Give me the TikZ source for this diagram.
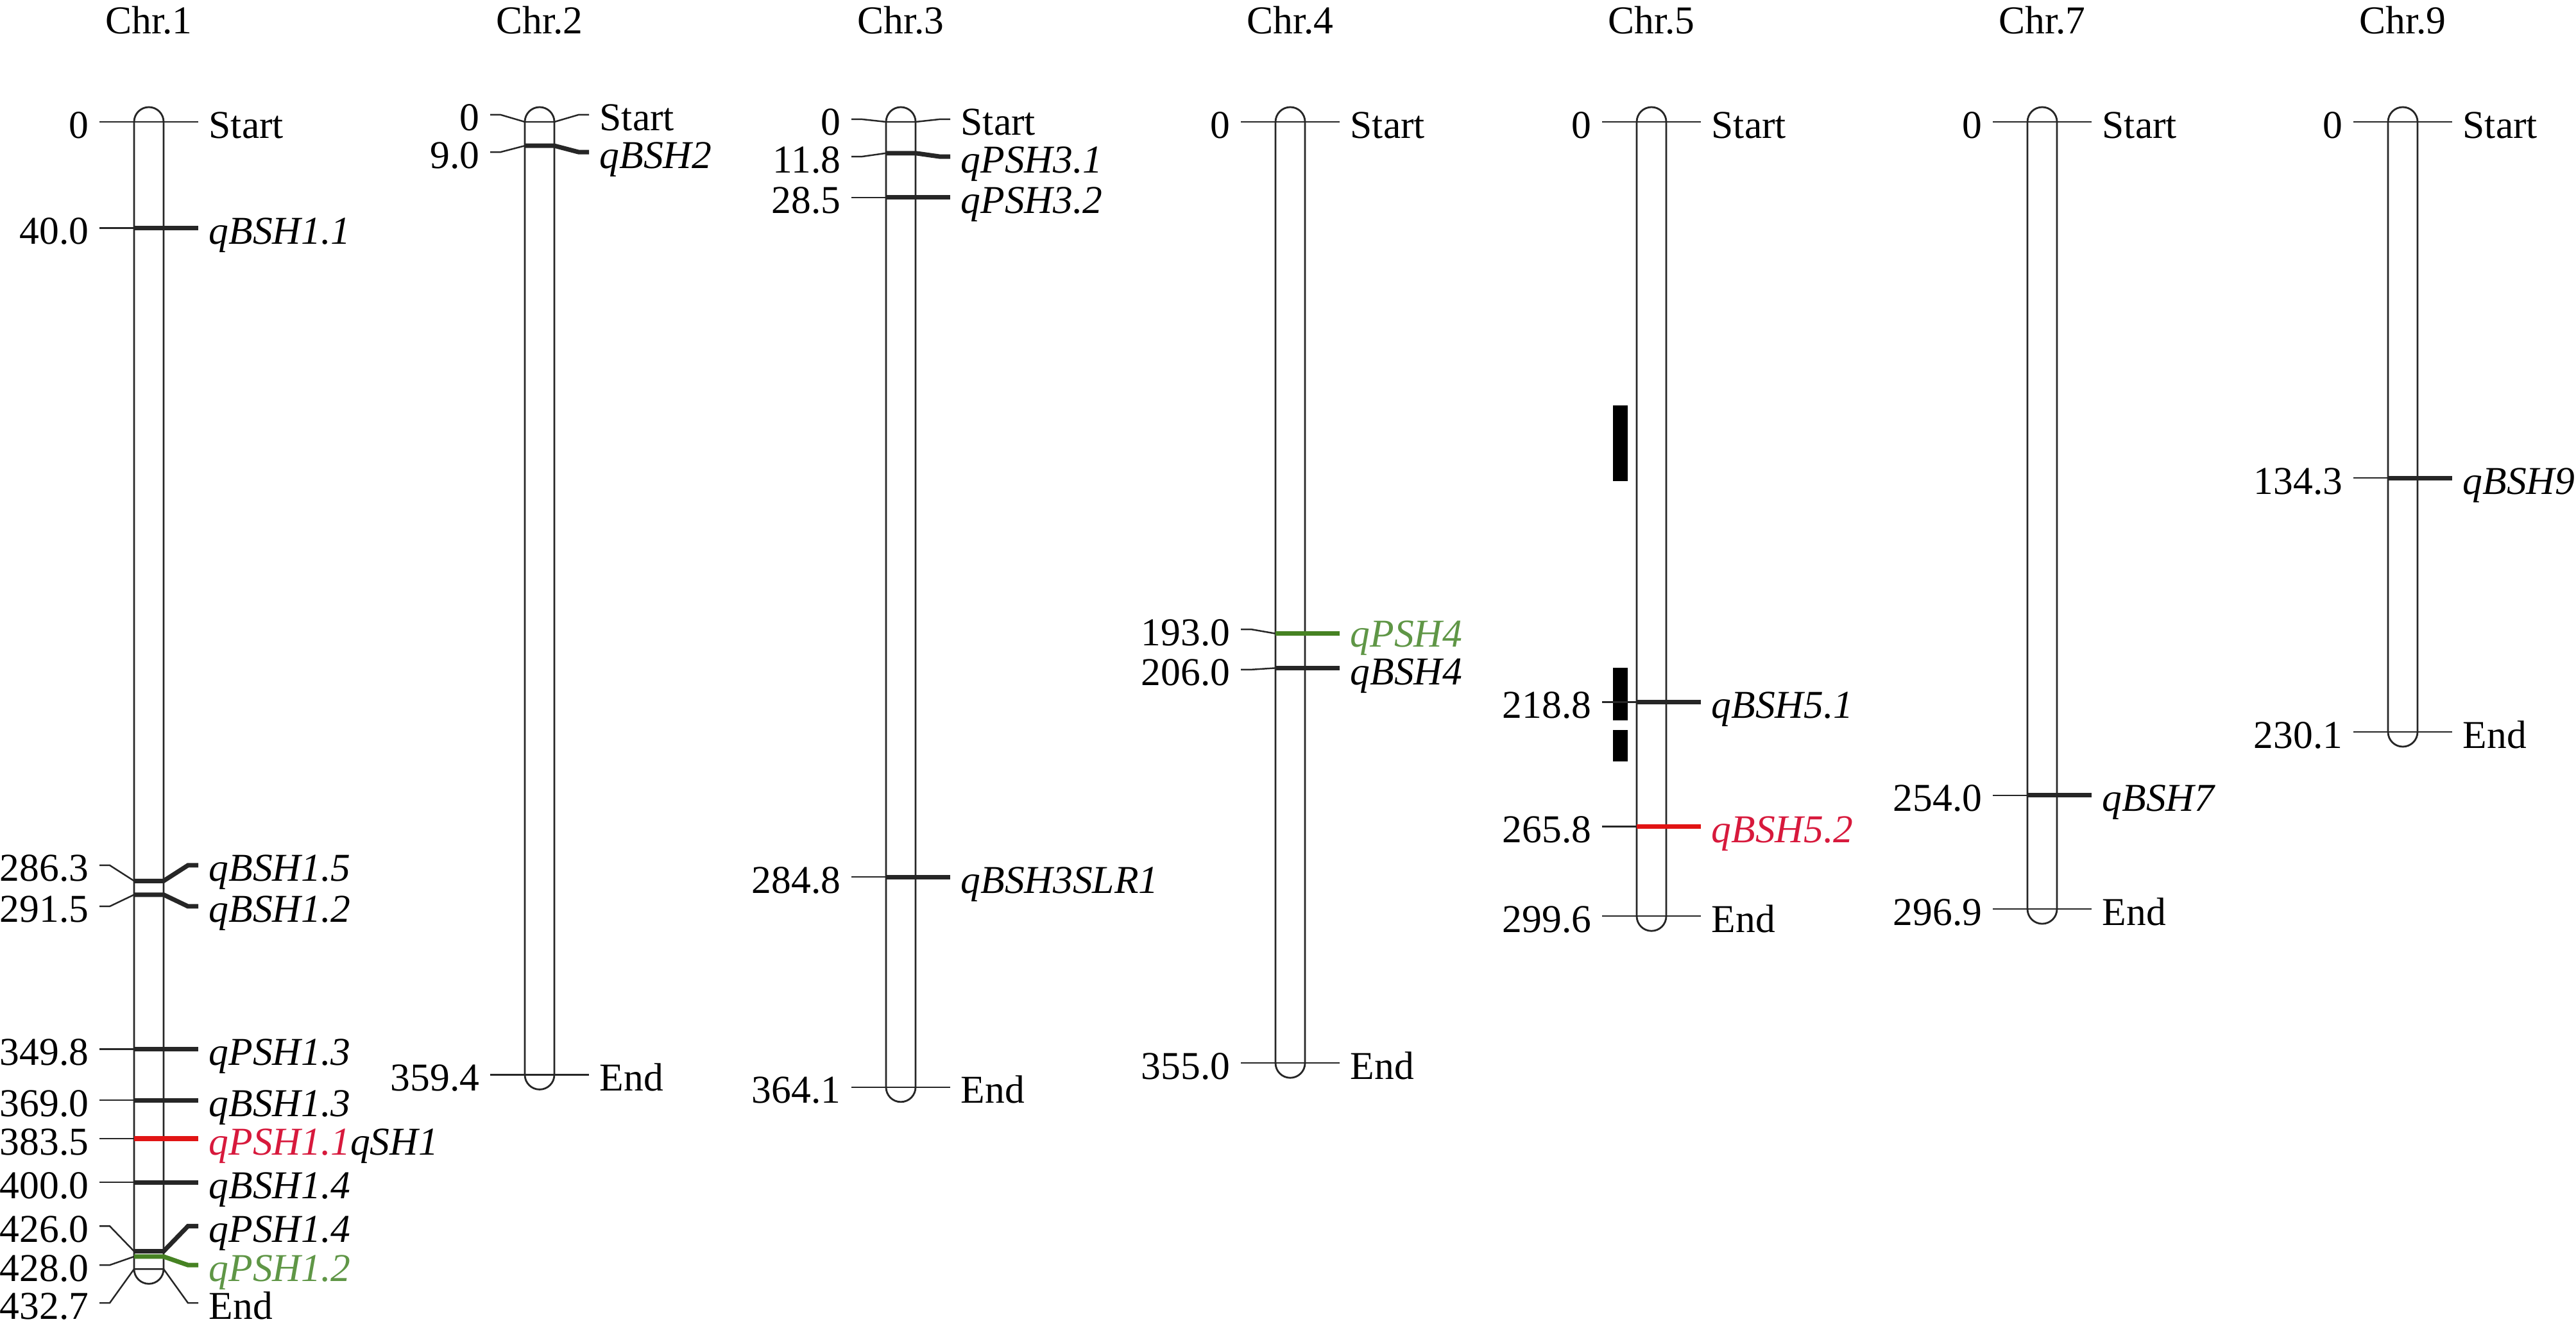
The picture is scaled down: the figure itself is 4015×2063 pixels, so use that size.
\documentclass[tikz,border=0pt]{standalone}
\usepackage{fontspec}
\setmainfont{Liberation Serif}

\definecolor{qtlred}{RGB}{225,20,20}
\definecolor{txtred}{RGB}{215,25,60}
\definecolor{qtlgreen}{RGB}{70,130,35}
\definecolor{txtgreen}{RGB}{95,150,70}

\newcommand{\mapfont}{\fontsize{17.5pt}{21pt}\selectfont}

\tikzset{
  chrbar/.style={draw=black!85, line width=0.8pt, fill=white},
  tickline/.style={draw=black!85, line width=0.7pt},
  qtl/.style={line width=2pt},
  cmlabel/.style={anchor=base east, inner sep=0pt, yshift=-0.25cm},
  qlabel/.style={anchor=base west, inner sep=0pt, yshift=-0.25cm, font=\mapfont\itshape},
  endlabel/.style={anchor=base west, inner sep=0pt, yshift=-0.25cm},
  chrtitle/.style={anchor=base, inner sep=0pt}
}

\begin{document}
\begin{tikzpicture}[x=0.01cm, y=-0.01cm, font=\mapfont]
  \useasboundingbox (0,0) rectangle (4015,2063);

  % titles
  \node[chrtitle] (t1) at (232,52) {Chr.1};
  \node[chrtitle] (t2) at (841,52) {Chr.2};
  \node[chrtitle] (t3) at (1404,52) {Chr.3};
  \node[chrtitle] (t4) at (2011,52) {Chr.4};
  \node[chrtitle] (t5) at (2574,52) {Chr.5};
  \node[chrtitle] (t7) at (3183,52) {Chr.7};
  \node[chrtitle] (t9) at (3745,52) {Chr.9};

  % Chr.1
  \begin{scope}[shift={(232,190)}, y=-0.0413cm]
    \draw[chrbar] (-23,0) arc[start angle=180, end angle=0, radius=0.23cm] -- (23,432.7) arc[start angle=0, end angle=-180, radius=0.23cm] -- cycle;
    \draw[tickline] (-77,0) -- (77,0);
    \draw[tickline] (-77,40) -- (-23,40);
    \draw[tickline, qtl] (-23,40) -- (77,40);
    \draw[tickline] (-77,280.4) -- (-61,280.4) -- (-23,286.3);
    \draw[tickline, qtl] (-23,286.3) -- (23,286.3) -- (61,280.4) -- (77,280.4);
    \draw[tickline] (-77,295.9) -- (-61,295.9) -- (-23,291.5);
    \draw[tickline, qtl] (-23,291.5) -- (23,291.5) -- (61,295.9) -- (77,295.9);
    \draw[tickline] (-77,349.8) -- (-23,349.8);
    \draw[tickline, qtl] (-23,349.8) -- (77,349.8);
    \draw[tickline] (-77,369) -- (-23,369);
    \draw[tickline, qtl] (-23,369) -- (77,369);
    \draw[tickline] (-77,383.5) -- (-23,383.5);
    \draw[tickline, qtl, qtlred] (-23,383.5) -- (77,383.5);
    \draw[tickline] (-77,400) -- (-23,400);
    \draw[tickline, qtl] (-23,400) -- (77,400);
    \draw[tickline] (-77,416.5) -- (-61,416.5) -- (-23,426);
    \draw[tickline, qtl] (-23,426) -- (23,426) -- (61,416.5) -- (77,416.5);
    \draw[tickline] (-77,431.2) -- (-61,431.2) -- (-23,428);
    \draw[tickline, qtl, qtlgreen] (-23,428) -- (23,428) -- (61,431.2) -- (77,431.2);
    \draw[tickline] (-77,445.5) -- (-61,445.5) -- (-23,432.7) -- (23,432.7) -- (61,445.5) -- (77,445.5);
    \node[cmlabel] (c1p1) at (-93,0) {0};
    \node[cmlabel] (c1p2) at (-93,40) {40.0};
    \node[cmlabel] (c1p3) at (-93,280.4) {286.3};
    \node[cmlabel] (c1p4) at (-93,295.9) {291.5};
    \node[cmlabel] (c1p5) at (-93,349.8) {349.8};
    \node[cmlabel] (c1p6) at (-93,369) {369.0};
    \node[cmlabel] (c1p7) at (-93,383.5) {383.5};
    \node[cmlabel] (c1p8) at (-93,400) {400.0};
    \node[cmlabel] (c1p9) at (-93,416.5) {426.0};
    \node[cmlabel] (c1p10) at (-93,431.2) {428.0};
    \node[cmlabel] (c1p11) at (-93,445.5) {432.7};
    \node[endlabel] (c1q1) at (93,0) {Start};
    \node[qlabel] (c1q2) at (93,40) {qBSH1.1};
    \node[qlabel] (c1q3) at (93,280.4) {qBSH1.5};
    \node[qlabel] (c1q4) at (93,295.9) {qBSH1.2};
    \node[qlabel] (c1q5) at (93,349.8) {qPSH1.3};
    \node[qlabel] (c1q6) at (93,369) {qBSH1.3};
    \node[qlabel] (c1q7) at (93,383.5) {\textcolor{txtred}{qPSH1.1}qSH1};
    \node[qlabel] (c1q8) at (93,400) {qBSH1.4};
    \node[qlabel] (c1q9) at (93,416.5) {qPSH1.4};
    \node[qlabel, text=txtgreen] (c1q10) at (93,431.2) {qPSH1.2};
    \node[endlabel] (c1q11) at (93,445.5) {End};
  \end{scope}

  % Chr.2
  \begin{scope}[shift={(841,190)}, y=-0.0413cm]
    \draw[chrbar] (-23,0) arc[start angle=180, end angle=0, radius=0.23cm] -- (23,359.4) arc[start angle=0, end angle=-180, radius=0.23cm] -- cycle;
    \draw[tickline] (-77,-2.7) -- (-61,-2.7) -- (-23,0) -- (23,0) -- (61,-2.7) -- (77,-2.7);
    \draw[tickline] (-77,11.4) -- (-61,11.4) -- (-23,9);
    \draw[tickline, qtl] (-23,9) -- (23,9) -- (61,11.4) -- (77,11.4);
    \draw[tickline] (-77,359.4) -- (77,359.4);
    \node[cmlabel] (c2p1) at (-93,-2.7) {0};
    \node[cmlabel] (c2p2) at (-93,11.4) {9.0};
    \node[cmlabel] (c2p3) at (-93,359.4) {359.4};
    \node[endlabel] (c2q1) at (93,-2.7) {Start};
    \node[qlabel] (c2q2) at (93,11.4) {qBSH2};
    \node[endlabel] (c2q3) at (93,359.4) {End};
  \end{scope}

  % Chr.3
  \begin{scope}[shift={(1404,190)}, y=-0.0413cm]
    \draw[chrbar] (-23,0) arc[start angle=180, end angle=0, radius=0.23cm] -- (23,364.1) arc[start angle=0, end angle=-180, radius=0.23cm] -- cycle;
    \draw[tickline] (-77,-1) -- (-61,-1) -- (-23,0) -- (23,0) -- (61,-1) -- (77,-1);
    \draw[tickline] (-77,13.1) -- (-61,13.1) -- (-23,11.8);
    \draw[tickline, qtl] (-23,11.8) -- (23,11.8) -- (61,13.1) -- (77,13.1);
    \draw[tickline] (-77,28.5) -- (-23,28.5);
    \draw[tickline, qtl] (-23,28.5) -- (77,28.5);
    \draw[tickline] (-77,284.8) -- (-23,284.8);
    \draw[tickline, qtl] (-23,284.8) -- (77,284.8);
    \draw[tickline] (-77,364.1) -- (77,364.1);
    \node[cmlabel] (c3p1) at (-93,-1) {0};
    \node[cmlabel] (c3p2) at (-93,13.1) {11.8};
    \node[cmlabel] (c3p3) at (-93,28.5) {28.5};
    \node[cmlabel] (c3p4) at (-93,284.8) {284.8};
    \node[cmlabel] (c3p5) at (-93,364.1) {364.1};
    \node[endlabel] (c3q1) at (93,-1) {Start};
    \node[qlabel] (c3q2) at (93,13.1) {qPSH3.1};
    \node[qlabel] (c3q3) at (93,28.5) {qPSH3.2};
    \node[qlabel] (c3q4) at (93,284.8) {qBSH3SLR1};
    \node[endlabel] (c3q5) at (93,364.1) {End};
  \end{scope}

  % Chr.4
  \begin{scope}[shift={(2011,190)}, y=-0.0413cm]
    \draw[chrbar] (-23,0) arc[start angle=180, end angle=0, radius=0.23cm] -- (23,355) arc[start angle=0, end angle=-180, radius=0.23cm] -- cycle;
    \draw[tickline] (-77,0) -- (77,0);
    \draw[tickline] (-77,191.4) -- (-61,191.4) -- (-23,193);
    \draw[tickline, qtl, qtlgreen] (-23,193) -- (77,193);
    \draw[tickline] (-77,206.6) -- (-61,206.6) -- (-23,206);
    \draw[tickline, qtl] (-23,206) -- (77,206);
    \draw[tickline] (-77,355) -- (77,355);
    \node[cmlabel] (c4p1) at (-93,0) {0};
    \node[cmlabel] (c4p2) at (-93,191.4) {193.0};
    \node[cmlabel] (c4p3) at (-93,206.6) {206.0};
    \node[cmlabel] (c4p4) at (-93,355) {355.0};
    \node[endlabel] (c4q1) at (93,0) {Start};
    \node[qlabel, text=txtgreen] (c4q2) at (93,192) {qPSH4};
    \node[qlabel] (c4q3) at (93,206.3) {qBSH4};
    \node[endlabel] (c4q4) at (93,355) {End};
  \end{scope}

  % Chr.5
  \begin{scope}[shift={(2574,190)}, y=-0.0413cm]
    \draw[chrbar] (-23,0) arc[start angle=180, end angle=0, radius=0.23cm] -- (23,299.6) arc[start angle=0, end angle=-180, radius=0.23cm] -- cycle;
    \fill (-60,107) rectangle (-37,135.6);
    \fill (-60,205.8) rectangle (-37,225.7);
    \fill (-60,229.3) rectangle (-37,241.2);
    \draw[tickline] (-77,0) -- (77,0);
    \draw[tickline] (-77,218.8) -- (-23,218.8);
    \draw[tickline, qtl] (-23,218.8) -- (77,218.8);
    \draw[tickline] (-77,265.8) -- (-23,265.8);
    \draw[tickline, qtl, qtlred] (-23,265.8) -- (77,265.8);
    \draw[tickline] (-77,299.6) -- (77,299.6);
    \node[cmlabel] (c5p1) at (-93,0) {0};
    \node[cmlabel] (c5p2) at (-93,218.8) {218.8};
    \node[cmlabel] (c5p3) at (-93,265.8) {265.8};
    \node[cmlabel] (c5p4) at (-93,299.6) {299.6};
    \node[endlabel] (c5q1) at (93,0) {Start};
    \node[qlabel] (c5q2) at (93,218.8) {qBSH5.1};
    \node[qlabel, text=txtred] (c5q3) at (93,265.8) {qBSH5.2};
    \node[endlabel] (c5q4) at (93,299.6) {End};
  \end{scope}

  % Chr.7
  \begin{scope}[shift={(3183,190)}, y=-0.0413cm]
    \draw[chrbar] (-23,0) arc[start angle=180, end angle=0, radius=0.23cm] -- (23,296.9) arc[start angle=0, end angle=-180, radius=0.23cm] -- cycle;
    \draw[tickline] (-77,0) -- (77,0);
    \draw[tickline] (-77,254) -- (-23,254);
    \draw[tickline, qtl] (-23,254) -- (77,254);
    \draw[tickline] (-77,296.9) -- (77,296.9);
    \node[cmlabel] (c7p1) at (-93,0) {0};
    \node[cmlabel] (c7p2) at (-93,254) {254.0};
    \node[cmlabel] (c7p3) at (-93,296.9) {296.9};
    \node[endlabel] (c7q1) at (93,0) {Start};
    \node[qlabel] (c7q2) at (93,254) {qBSH7};
    \node[endlabel] (c7q3) at (93,296.9) {End};
  \end{scope}

  % Chr.9
  \begin{scope}[shift={(3745,190)}, y=-0.0413cm]
    \draw[chrbar] (-23,0) arc[start angle=180, end angle=0, radius=0.23cm] -- (23,230.1) arc[start angle=0, end angle=-180, radius=0.23cm] -- cycle;
    \draw[tickline] (-77,0) -- (77,0);
    \draw[tickline] (-77,134.3) -- (-23,134.3);
    \draw[tickline, qtl] (-23,134.3) -- (77,134.3);
    \draw[tickline] (-77,230.1) -- (77,230.1);
    \node[cmlabel] (c9p1) at (-93,0) {0};
    \node[cmlabel] (c9p2) at (-93,134.3) {134.3};
    \node[cmlabel] (c9p3) at (-93,230.1) {230.1};
    \node[endlabel] (c9q1) at (93,0) {Start};
    \node[qlabel] (c9q2) at (93,134.3) {qBSH9};
    \node[endlabel] (c9q3) at (93,230.1) {End};
  \end{scope}
\end{tikzpicture}
\end{document}
